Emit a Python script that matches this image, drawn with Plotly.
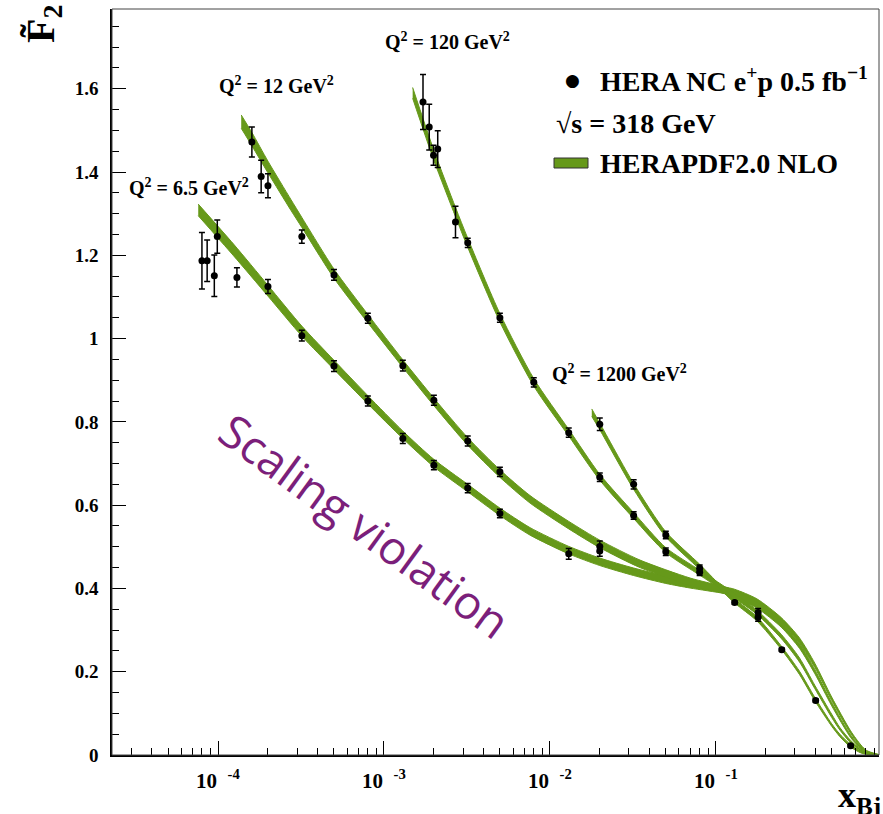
import math
import plotly.graph_objects as go

# ---------------- data ----------------
# HERA NC e+p points: x, F2, error
x_q6 = [8.0e-5, 8.6e-5, 9.5e-5, 9.9e-5, 1.3e-4, 2.0e-4, 3.2e-4, 5.0e-4, 8.0e-4, 1.3e-3,
        2.0e-3, 3.2e-3, 5.0e-3, 1.3e-2, 2.0e-2]
f_q6 = [1.187, 1.187, 1.151, 1.245, 1.147, 1.125, 1.007, 0.934, 0.850, 0.760,
        0.696, 0.641, 0.580, 0.483, 0.490]
e_q6 = [0.068, 0.050, 0.050, 0.040, 0.023, 0.017, 0.013, 0.013, 0.012, 0.012,
        0.011, 0.011, 0.010, 0.013, 0.013]

x_q12 = [1.6e-4, 1.82e-4, 2.0e-4, 3.2e-4, 5.0e-4, 8.0e-4, 1.3e-3, 2.0e-3, 3.2e-3, 5.0e-3, 2.0e-2]
f_q12 = [1.472, 1.389, 1.367, 1.245, 1.153, 1.049, 0.935, 0.852, 0.754, 0.680, 0.501]
e_q12 = [0.036, 0.039, 0.029, 0.016, 0.013, 0.012, 0.013, 0.012, 0.012, 0.011, 0.013]

x_q120 = [1.72e-3, 1.875e-3, 1.99e-3, 2.11e-3, 2.7e-3, 3.2e-3, 5.0e-3, 8.0e-3, 1.3e-2,
          2.0e-2, 3.2e-2, 5.0e-2, 8.0e-2, 1.8e-1]
f_q120 = [1.568, 1.508, 1.440, 1.455, 1.280, 1.230, 1.050, 0.895, 0.774,
          0.667, 0.575, 0.488, 0.439, 0.342]
e_q120 = [0.066, 0.055, 0.024, 0.044, 0.038, 0.011, 0.011, 0.011, 0.011,
          0.010, 0.009, 0.009, 0.008, 0.010]

x_q1200 = [2.0e-2, 3.2e-2, 5.0e-2, 8.0e-2, 1.3e-1, 1.8e-1, 2.5e-1, 4.0e-1, 6.5e-1]
f_q1200 = [0.794, 0.650, 0.5285, 0.4485, 0.366, 0.331, 0.253, 0.131, 0.022]
e_q1200 = [0.015, 0.011, 0.009, 0.008, 0.004, 0.010, 0.004, 0.004, 0.003]

# HERAPDF2.0 NLO bands: x, central F2, half-width
bx_q6 = [7.6e-5, 1.24e-4, 2.0e-4, 3.2e-4, 5.0e-4, 8.0e-4, 1.3e-3, 2.0e-3, 3.2e-3, 5.0e-3,
         7.6e-3, 1.3e-2, 2.0e-2, 3.2e-2, 5.0e-2, 7.0e-2, 1.12e-1, 1.3e-1, 1.77e-1, 2.48e-1,
         3.2e-1, 3.96e-1, 5.0e-1, 6.5e-1, 7.5e-1, 8.1e-1, 9.6e-1]
by_q6 = [1.309, 1.213, 1.115, 1.018, 0.937, 0.853, 0.769, 0.701, 0.641, 0.584,
         0.537, 0.492, 0.464, 0.440, 0.421, 0.410, 0.396, 0.390, 0.368, 0.324,
         0.275, 0.215, 0.135, 0.055, 0.022, 0.010, 0.0]
bw_q6 = [0.014, 0.014, 0.013, 0.012, 0.011, 0.010, 0.009, 0.009, 0.009, 0.009,
         0.009, 0.009, 0.009, 0.009, 0.009, 0.009, 0.008, 0.008, 0.007, 0.006,
         0.006, 0.005, 0.004, 0.003, 0.002, 0.001, 0.001]

bx_q12 = [1.38e-4, 1.6e-4, 2.0e-4, 2.75e-4, 3.2e-4, 5.0e-4, 8.0e-4, 1.3e-3, 2.0e-3, 3.2e-3,
          5.0e-3, 7.6e-3, 1.3e-2, 2.0e-2, 3.5e-2, 7.0e-2, 1.12e-1, 1.3e-1, 1.77e-1, 2.48e-1,
          3.2e-1, 3.96e-1, 5.0e-1, 6.5e-1, 7.5e-1, 8.1e-1, 9.6e-1]
by_q12 = [1.521, 1.479, 1.412, 1.321, 1.279, 1.156, 1.048, 0.940, 0.848, 0.753,
          0.676, 0.614, 0.552, 0.507, 0.459, 0.416, 0.396, 0.386, 0.360, 0.313,
          0.262, 0.200, 0.122, 0.045, 0.017, 0.007, 0.0]
bw_q12 = [0.016, 0.016, 0.014, 0.013, 0.012, 0.011, 0.010, 0.009, 0.009, 0.009,
          0.009, 0.009, 0.009, 0.009, 0.009, 0.009, 0.008, 0.008, 0.007, 0.006,
          0.006, 0.005, 0.004, 0.003, 0.002, 0.001, 0.001]

bx_q120 = [1.49e-3, 2.0e-3, 2.7e-3, 3.2e-3, 5.0e-3, 8.0e-3, 1.3e-2, 2.0e-2, 3.2e-2, 5.0e-2,
           8.0e-2, 1.05e-1, 1.3e-1, 1.77e-1, 2.48e-1, 3.2e-1, 3.96e-1, 5.0e-1, 5.6e-1, 6.5e-1,
           7.5e-1, 8.1e-1, 9.6e-1]
by_q120 = [1.590, 1.440, 1.304, 1.230, 1.050, 0.895, 0.774, 0.667, 0.575, 0.492,
           0.438, 0.407, 0.382, 0.343, 0.285, 0.228, 0.163, 0.094, 0.063, 0.032,
           0.012, 0.005, 0.0]
bw_q120 = [0.013, 0.012, 0.011, 0.011, 0.010, 0.009, 0.008, 0.007, 0.007, 0.006,
           0.006, 0.006, 0.006, 0.005, 0.005, 0.005, 0.004, 0.004, 0.003, 0.003,
           0.002, 0.001, 0.001]

bx_q1200 = [1.79e-2, 2.0e-2, 3.2e-2, 5.0e-2, 8.0e-2, 1.05e-1, 1.3e-1, 1.77e-1, 2.48e-1, 3.2e-1,
            3.96e-1, 5.0e-1, 5.6e-1, 6.5e-1, 7.5e-1, 8.5e-1, 9.6e-1]
by_q1200 = [0.822, 0.789, 0.645, 0.530, 0.452, 0.405, 0.370, 0.327, 0.258, 0.197,
            0.134, 0.072, 0.047, 0.022, 0.007, 0.001, 0.0]
bw_q1200 = [0.009, 0.008, 0.007, 0.006, 0.006, 0.005, 0.005, 0.005, 0.004, 0.004,
            0.004, 0.003, 0.003, 0.003, 0.002, 0.001, 0.001]

q2_labels = ["Q<sup>2</sup> = 6.5 GeV<sup>2</sup>", "Q<sup>2</sup> = 12 GeV<sup>2</sup>",
             "Q<sup>2</sup> = 120 GeV<sup>2</sup>", "Q<sup>2</sup> = 1200 GeV<sup>2</sup>"]
x_tickvals = [1e-4, 1e-3, 1e-2, 1e-1]
x_ticktext = ["10\u00a0\u00a0<sup>-4</sup>", "10\u00a0\u00a0<sup>-3</sup>",
              "10\u00a0\u00a0<sup>-2</sup>", "10\u00a0\u00a0<sup>-1</sup>"]
y_tickvals = [0, 0.2, 0.4, 0.6, 0.8, 1.0, 1.2, 1.4, 1.6]
y_ticktext = ["0", "0.2", "0.4", "0.6", "0.8", "1", "1.2", "1.4", "1.6"]

# ---------------- styling ----------------
W, H = 883, 814
ML, MR, MT, MB = 112, 4, 9, 59
PW, PH = W - ML - MR, H - MT - MB
GREEN = "#66991A"
SERIF = "Liberation Serif"


def px(xp):
    return (xp - ML) / PW


def py(yp):
    return (H - MB - yp) / PH


fig = go.Figure()

bands = [(bx_q6, by_q6, bw_q6), (bx_q12, by_q12, bw_q12),
         (bx_q120, by_q120, bw_q120), (bx_q1200, by_q1200, bw_q1200)]
for bx, by, bw in bands:
    lo = [c - w for c, w in zip(by, bw)]
    hi = [c + w for c, w in zip(by, bw)]
    fig.add_trace(go.Scatter(x=bx, y=lo, mode="lines",
                             line=dict(color=GREEN, width=1, shape="spline", smoothing=0.7),
                             showlegend=False, hoverinfo="skip"))
    fig.add_trace(go.Scatter(x=bx, y=hi, mode="lines", fill="tonexty", fillcolor=GREEN,
                             line=dict(color=GREEN, width=1, shape="spline", smoothing=0.7),
                             showlegend=False, hoverinfo="skip"))

for xs, fs, es in [(x_q6, f_q6, e_q6), (x_q12, f_q12, e_q12),
                   (x_q120, f_q120, e_q120), (x_q1200, f_q1200, e_q1200)]:
    fig.add_trace(go.Scatter(x=xs, y=fs, mode="markers",
                             marker=dict(color="black", size=7),
                             error_y=dict(type="data", array=es, visible=True,
                                          color="black", thickness=1.5, width=3),
                             showlegend=False))

minor_x = [k * 10.0 ** d for d in range(-5, 0) for k in range(2, 10)]

fig.update_layout(
    width=W, height=H,
    margin=dict(l=ML, r=MR, t=MT, b=MB),
    paper_bgcolor="white", plot_bgcolor="white",
    showlegend=False,
    xaxis=dict(type="log", range=[-4.639, -0.016], showgrid=False, zeroline=False,
               showline=True, linecolor="black", linewidth=1.5,
               tickmode="array", tickvals=x_tickvals, showticklabels=False,
               ticks="inside", ticklen=14, tickwidth=1.2, tickcolor="black",
               minor=dict(tickmode="array", tickvals=minor_x, ticks="inside",
                          ticklen=7, tickwidth=1, tickcolor="black", showgrid=False)),
    yaxis=dict(range=[0, 1.7915], showgrid=False, zeroline=False,
               showline=True, linecolor="black", linewidth=1.5,
               tickmode="array", tickvals=y_tickvals, ticktext=y_ticktext,
               ticks="inside", ticklen=14, tickwidth=1.2, tickcolor="black",
               ticklabelstandoff=8,
               tickfont=dict(family=SERIF, size=19, color="black", weight="bold"),
               minor=dict(tick0=0, dtick=0.05, ticks="inside", ticklen=7,
                          tickwidth=1, tickcolor="black", showgrid=False)),
)

# x tick labels (ROOT style "10  ^-n")
for tv, tt in zip(x_tickvals, x_ticktext):
    fig.add_annotation(text=tt, xref="x", yref="paper", x=math.log10(tv), y=py(779),
                       xanchor="center", yanchor="middle", showarrow=False,
                       font=dict(family=SERIF, size=21, color="black", weight="bold"))

# frame
fig.add_shape(type="rect", xref="paper", yref="paper", x0=0, x1=1, y0=0, y1=1,
              line=dict(color="#444", width=1), layer="above")

lab_font = dict(family=SERIF, size=20, color="black", weight="bold")
for text, (xl, yc) in zip(q2_labels, [(127, 187), (217, 85), (383, 41), (550, 373)]):
    fig.add_annotation(text=text, xref="paper", yref="paper", x=px(xl), y=py(yc),
                       xanchor="left", yanchor="middle", showarrow=False, font=lab_font)

leg_font = dict(family=SERIF, size=28, color="black", weight="bold")
fig.add_annotation(text="●", xref="paper", yref="paper", x=px(572), y=py(80),
                   xanchor="center", yanchor="middle", showarrow=False,
                   font=dict(family="DejaVu Sans", size=17, color="black"))
fig.add_annotation(text="HERA NC e<sup>+</sup>p 0.5 fb<sup>−1</sup>", xref="paper", yref="paper",
                   x=px(598), y=py(80), xanchor="left", yanchor="middle", showarrow=False,
                   font=leg_font)
fig.add_annotation(text="√s = 318 GeV", xref="paper", yref="paper",
                   x=px(554), y=py(123), xanchor="left", yanchor="middle", showarrow=False,
                   font=leg_font)
fig.add_shape(type="rect", xref="paper", yref="paper", x0=px(554), x1=px(588),
              y0=py(168), y1=py(158), fillcolor=GREEN, line=dict(color="#333", width=1))
fig.add_annotation(text="HERAPDF2.0 NLO", xref="paper", yref="paper",
                   x=px(598), y=py(163), xanchor="left", yanchor="middle", showarrow=False,
                   font=leg_font)

# axis titles
fig.add_annotation(text="F\u0303<sub>2</sub>", xref="paper", yref="paper",
                   x=px(43), y=py(24), xanchor="center", yanchor="middle", showarrow=False,
                   textangle=-90, font=dict(family=SERIF, size=40, color="black", weight="bold"))
fig.add_annotation(text="x<sub>Bj</sub>", xref="paper", yref="paper",
                   x=px(836), y=py(797), xanchor="left", yanchor="middle", showarrow=False,
                   font=dict(family=SERIF, size=36, color="black", weight="bold"))

fig.add_annotation(text="Scaling violation", xref="paper", yref="paper",
                   x=px(365), y=py(525), xanchor="center", yanchor="middle", showarrow=False,
                   textangle=36, font=dict(family="Open Sans", size=46, color="#7B1F7A"))

fig.write_html("out.html")
